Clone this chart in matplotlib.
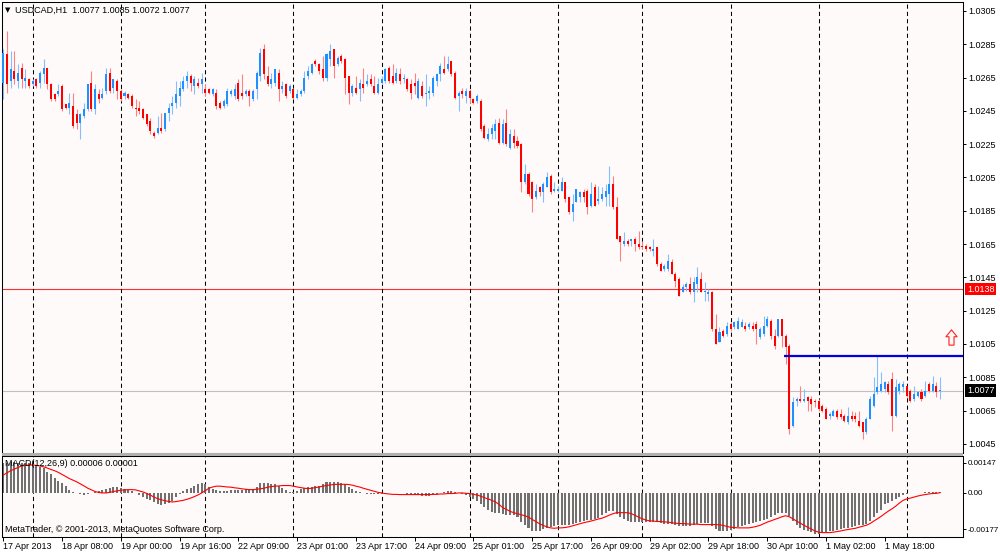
import matplotlib
matplotlib.use("Agg")
import matplotlib.pyplot as plt
from matplotlib.path import Path
from matplotlib.patches import Rectangle
from matplotlib.transforms import blended_transform_factory
import numpy as np

plt.rcParams['font.family'] = ['Liberation Sans', 'DejaVu Sans']
plt.rcParams['font.size'] = 6.5

symbol = "USDCAD,H1"

# hourly candles, in pips above 1.0000 (1 pip = 0.0001)
opens = [262, 279, 263, 269, 263, 271, 263, 264, 261, 264,
         262, 267, 271, 261, 255, 255, 260, 249, 247, 248,
         243, 238, 242, 246, 262, 246, 255, 253, 257, 268,
         259, 263, 257, 254, 255, 254, 247, 247, 246, 243,
         239, 232, 232, 235, 234, 244, 248, 250, 254, 258,
         263, 266, 260, 262, 261, 258, 258, 255, 256, 250,
         248, 249, 255, 254, 262, 256, 255, 257, 252, 258,
         266, 282, 266, 261, 262, 268, 258, 261, 257, 258,
         253, 255, 257, 266, 268, 275, 273, 270, 265, 276,
         282, 273, 278, 276, 266, 256, 259, 258, 261, 261,
         264, 260, 256, 262, 263, 271, 266, 263, 267, 264,
         264, 261, 262, 253, 260, 255, 256, 256, 263, 267,
         270, 270, 275, 268, 254, 257, 254, 257, 252, 251,
         251, 236, 228, 231, 233, 238, 226, 238, 223, 230,
         227, 225, 202, 207, 202, 193, 199, 196, 199, 206,
         197, 197, 197, 202, 193, 184, 190, 193, 196, 197,
         188, 199, 191, 192, 193, 195, 201, 187, 170, 165,
         167, 167, 168, 165, 164, 164, 163, 161, 163, 153,
         150, 150, 154, 147, 144, 136, 139, 141, 136, 141,
         144, 136, 135, 136, 114, 106, 113, 111, 117, 115,
         114, 115, 116, 115, 116, 117, 109, 111, 116, 119,
         110, 110, 120, 110, 104, 56, 71, 72, 71, 73,
         72, 71, 71, 68, 66, 62, 62, 65, 63, 62,
         58, 62, 62, 59, 58, 52, 60, 68, 76, 77,
         78, 81, 84, 62, 77, 79, 80, 77, 72, 74,
         76, 74, 81, 77, 80, 77]
highs = [282, 293, 281, 281, 273, 274, 270, 265, 264, 265,
         269, 276, 271, 262, 256, 261, 261, 249, 256, 256,
         246, 244, 250, 261, 269, 261, 258, 259, 271, 271,
         264, 264, 258, 257, 256, 255, 252, 251, 247, 243,
         241, 233, 242, 244, 244, 250, 254, 263, 263, 266,
         269, 267, 266, 265, 268, 261, 259, 259, 258, 251,
         252, 259, 258, 261, 264, 267, 258, 258, 258, 269,
         283, 285, 272, 268, 270, 270, 263, 262, 261, 259,
         258, 258, 269, 272, 274, 276, 274, 278, 280, 285,
         282, 278, 279, 277, 266, 261, 266, 264, 271, 267,
         267, 266, 265, 266, 271, 272, 273, 271, 271, 267,
         265, 264, 268, 265, 263, 267, 260, 266, 268, 274,
         278, 278, 275, 269, 257, 259, 259, 258, 253, 255,
         252, 237, 235, 237, 240, 241, 240, 246, 234, 234,
         230, 226, 213, 208, 203, 201, 200, 202, 208, 207,
         202, 200, 205, 202, 193, 195, 198, 197, 198, 198,
         202, 201, 200, 199, 201, 212, 206, 193, 170, 172,
         168, 168, 169, 173, 167, 165, 164, 168, 163, 154,
         153, 159, 156, 148, 145, 141, 142, 145, 145, 151,
         148, 142, 138, 137, 123, 115, 114, 118, 118, 119,
         121, 120, 118, 118, 118, 119, 115, 122, 122, 120,
         114, 120, 120, 111, 105, 73, 73, 80, 78, 74,
         74, 72, 72, 69, 67, 64, 66, 66, 66, 63,
         67, 65, 64, 65, 58, 61, 74, 85, 98, 88,
         83, 83, 88, 84, 82, 83, 80, 78, 80, 77,
         78, 83, 82, 86, 82, 85]
lows = [252, 256, 259, 261, 259, 259, 259, 259, 260, 259,
        259, 262, 258, 251, 251, 254, 245, 246, 243, 235,
        234, 228, 241, 245, 245, 243, 250, 252, 255, 256,
        256, 252, 251, 252, 252, 247, 242, 243, 240, 236,
        231, 229, 231, 232, 233, 239, 243, 247, 248, 257,
        259, 257, 255, 259, 256, 254, 255, 254, 246, 246,
        247, 248, 254, 252, 251, 252, 254, 248, 251, 252,
        263, 264, 260, 259, 260, 251, 256, 253, 256, 252,
        252, 254, 256, 264, 267, 272, 267, 263, 263, 272,
        265, 272, 274, 255, 249, 254, 255, 251, 256, 260,
        260, 255, 255, 261, 262, 262, 261, 262, 261, 262,
        257, 252, 255, 252, 253, 248, 252, 254, 260, 263,
        267, 269, 266, 252, 245, 253, 250, 250, 249, 250,
        233, 228, 227, 228, 228, 225, 225, 224, 222, 223,
        223, 196, 201, 194, 184, 192, 194, 190, 199, 195,
        196, 196, 197, 190, 183, 179, 190, 190, 190, 183,
        187, 188, 189, 191, 188, 188, 186, 168, 155, 164,
        164, 164, 161, 162, 162, 161, 161, 158, 152, 149,
        149, 149, 147, 139, 134, 136, 137, 135, 130, 136,
        136, 131, 131, 113, 105, 106, 109, 110, 113, 114,
        114, 115, 113, 114, 113, 105, 108, 110, 115, 108,
        102, 109, 103, 93, 51, 55, 68, 70, 70, 65,
        65, 67, 65, 64, 60, 60, 62, 60, 60, 58,
        57, 59, 58, 55, 48, 51, 60, 67, 75, 76,
        76, 75, 53, 61, 75, 76, 73, 70, 71, 73,
        71, 73, 76, 76, 73, 72]
closes = [280, 261, 270, 264, 268, 264, 265, 260, 263, 260,
          268, 271, 261, 252, 252, 257, 246, 247, 250, 236,
          238, 243, 246, 261, 246, 258, 252, 255, 267, 257,
          264, 257, 252, 256, 253, 248, 246, 245, 241, 237,
          233, 230, 235, 233, 244, 247, 250, 255, 259, 263,
          266, 262, 264, 260, 264, 256, 256, 258, 248, 247,
          251, 257, 257, 258, 252, 254, 257, 254, 257, 268,
          280, 267, 261, 264, 270, 258, 260, 254, 260, 253,
          255, 257, 265, 269, 273, 273, 269, 265, 279, 281,
          272, 277, 275, 265, 256, 260, 256, 262, 259, 263,
          261, 256, 261, 264, 270, 263, 262, 268, 263, 265,
          258, 256, 260, 263, 254, 256, 257, 265, 267, 272,
          268, 273, 267, 253, 256, 255, 257, 253, 250, 254,
          234, 229, 231, 235, 237, 226, 237, 225, 231, 226,
          224, 202, 207, 195, 192, 197, 196, 201, 205, 196,
          198, 198, 202, 192, 184, 189, 198, 196, 193, 187,
          195, 188, 192, 195, 197, 201, 187, 168, 166, 167,
          165, 168, 165, 163, 163, 162, 162, 162, 153, 149,
          152, 155, 147, 143, 134, 139, 141, 136, 142, 145,
          136, 137, 136, 114, 105, 112, 110, 116, 114, 118,
          119, 118, 114, 117, 114, 114, 114, 116, 120, 110,
          104, 120, 110, 103, 54, 70, 72, 71, 72, 71,
          69, 70, 66, 65, 60, 63, 65, 61, 61, 59,
          62, 60, 60, 56, 52, 60, 72, 75, 79, 81,
          82, 76, 62, 79, 81, 81, 74, 71, 75, 76,
          72, 77, 77, 81, 76, 77]

# MACD(12,26,9) in units of 0.00001
macd_main = [147, 147, 149, 150, 147, 147, 144, 144, 141, 136,
             127, 119, 103, 92, 74, 59, 46, 33, 16, 7,
             -1, -5, -8, -3, 2, 5, 11, 16, 21, 25,
             28, 29, 26, 20, 15, 10, 1, -10, -18, -28,
             -36, -46, -54, -60, -56, -47, -39, -21, -3, 8,
             18, 26, 34, 42, 46, 42, 29, 18, 13, 10,
             8, 10, 13, 15, 16, 16, 18, 18, 21, 29,
             46, 46, 46, 44, 42, 33, 23, 15, 7, 5,
             11, 18, 23, 28, 31, 36, 34, 44, 51, 54,
             54, 54, 49, 42, 29, 20, 10, 5, 1, -3,
             -5, -5, -7, -5, -2, -1, 2, -1, -1, -2,
             -5, -7, -8, -11, -15, -16, -15, -11, -3, 2,
             7, 11, 11, 5, -2, -7, -10, -18, -28, -38,
             -54, -70, -83, -92, -96, -100, -103, -109, -109, -109,
             -118, -139, -158, -173, -183, -186, -183, -175, -170, -167,
             -162, -157, -155, -158, -155, -150, -147, -142, -137, -134,
             -131, -127, -121, -109, -96, -87, -88, -101, -118, -127,
             -136, -139, -139, -141, -142, -142, -142, -139, -142, -147,
             -149, -150, -152, -155, -160, -163, -163, -160, -154, -150,
             -147, -147, -147, -163, -176, -183, -186, -183, -180, -175,
             -168, -162, -157, -152, -147, -142, -137, -131, -126, -116,
             -106, -100, -98, -100, -114, -136, -158, -170, -180, -186,
             -191, -198, -198, -193, -188, -183, -183, -180, -176, -173,
             -170, -165, -162, -158, -155, -149, -136, -118, -100, -82,
             -56, -47, -39, -29, -20, -8, -3, -1, 0, 1,
             2, 3, 4, 5, 6, 6]
macd_signal = [87, 98, 108, 116, 124, 131, 134, 136, 136, 134,
               131, 127, 121, 114, 108, 100, 90, 80, 70, 62,
               54, 44, 34, 23, 15, 7, 2, 0, 0, 3,
               7, 10, 13, 15, 16, 16, 15, 10, 5, -2,
               -10, -20, -28, -33, -38, -41, -44, -42, -39, -36,
               -31, -25, -18, -10, 0, 11, 23, 29, 33, 33,
               31, 29, 28, 25, 23, 20, 18, 16, 16, 18,
               20, 23, 28, 31, 33, 34, 36, 36, 36, 33,
               29, 26, 23, 21, 23, 26, 29, 33, 36, 39,
               41, 42, 42, 42, 41, 38, 33, 29, 23, 18,
               13, 8, 3, 0, -3, -5, -7, -7, -8, -8,
               -8, -8, -8, -8, -8, -8, -8, -7, -7, -5,
               -5, -3, -3, -2, 0, 0, -2, -3, -7, -10,
               -16, -23, -29, -36, -44, -56, -72, -80, -90, -96,
               -101, -106, -111, -118, -129, -139, -150, -158, -165, -170,
               -172, -170, -170, -168, -165, -160, -155, -150, -145, -141,
               -137, -132, -127, -123, -116, -108, -101, -96, -96, -96,
               -96, -101, -109, -118, -126, -132, -136, -137, -139, -139,
               -141, -142, -145, -147, -149, -149, -150, -152, -152, -152,
               -154, -154, -154, -154, -154, -155, -158, -163, -167, -168,
               -170, -170, -170, -170, -167, -163, -158, -150, -142, -136,
               -129, -123, -116, -111, -116, -126, -137, -147, -157, -167,
               -176, -185, -191, -193, -193, -193, -191, -188, -185, -181,
               -178, -175, -172, -167, -162, -157, -149, -137, -126, -114,
               -101, -88, -77, -64, -49, -36, -29, -25, -20, -15,
               -11, -8, -5, -3, -2, 1]

time_labels = ["17 Apr 2013", "18 Apr 08:00", "19 Apr 00:00", "19 Apr 16:00",
               "22 Apr 09:00", "23 Apr 01:00", "23 Apr 17:00", "24 Apr 09:00",
               "25 Apr 01:00", "25 Apr 17:00", "26 Apr 09:00", "29 Apr 02:00",
               "29 Apr 18:00", "30 Apr 10:00", "1 May 02:00", "1 May 18:00"]
label_step = 16
day_starts = [8, 32, 55, 79, 103, 127, 151, 174, 198, 222, 246]

price_ticks = [1.0045, 1.0065, 1.0085, 1.0105, 1.0125, 1.0145, 1.0165,
               1.0185, 1.0205, 1.0225, 1.0245, 1.0265, 1.0285, 1.0305]
macd_ticks = [0.00147, 0.0, -0.00177]
macd_tick_labels = ["0.00147", "0.00", "-0.00177"]

ask_level = 1.0138
bid_level = 1.0077
hline_level = 1.0098
hline_start = 213
arrow_bar, arrow_level = 258, 1.0109

pip = 0.0001
unit = 0.00001
o = 1 + np.array(opens) * pip
h = 1 + np.array(highs) * pip
l = 1 + np.array(lows) * pip
c = 1 + np.array(closes) * pip
m = np.array(macd_main) * unit
s = np.array(macd_signal) * unit
x = np.arange(len(o))

W, H = 1000, 553
fig = plt.figure(figsize=(W / 100, H / 100), dpi=100, facecolor='white')


def px_box(x0, y0, x1, y1):
    return [x0 / W, 1 - y1 / H, (x1 - x0) / W, (y1 - y0) / H]


def ftext(xp, yp, txt, **kw):
    fig.text(xp / W, 1 - yp / H, txt, **kw)


# window separator between the two panes
fig.patches.append(Rectangle((1.5 / W, 1 - 456 / H), 961.5 / W, 3 / H,
                             transform=fig.transFigure, fc='#b0b0b0', ec='none'))

ax = fig.add_axes(px_box(1.5, 2, 963, 453), facecolor='#fffafa')
axm = fig.add_axes(px_box(1.5, 456, 963, 536.5), facecolor='#fffafa')
xlim = (-0.49, 261.3)

# candles
up = c >= o
body_col = np.where(up, '#1e90ff', '#ff0000')
wick_col = np.where(up, '#80c0ff', '#ff8080')
ax.vlines(x, l, h, colors=wick_col, linewidth=0.8, zorder=2)
ax.bar(x, np.maximum(np.abs(c - o), 0.00006), bottom=np.minimum(o, c),
       width=0.55, color=body_col, linewidth=0, zorder=3)

ax.axhline(ask_level, color='#ff3030', lw=0.8, zorder=1)
ax.axhline(bid_level, color='#c0c0c0', lw=0.8, zorder=1)
ax.hlines(hline_level, hline_start - 0.5, xlim[1], color='#0000e0', lw=1.6, zorder=4)

arrow = Path([(0, 1), (0.73, 0.1), (0.33, 0.1), (0.33, -1), (-0.33, -1),
              (-0.33, 0.1), (-0.73, 0.1), (0, 1)], closed=True)
ax.plot([arrow_bar], [arrow_level], marker=arrow, ms=11, mfc='none',
        mec='#ff2020', mew=0.8, clip_on=False)

# macd
axm.bar(x, m, width=0.55, color='#707070', linewidth=0, zorder=2)
axm.plot(x, s, color='#ff0000', lw=0.8, zorder=3)

for a in (ax, axm):
    for d in day_starts:
        a.axvline(d, color='black', lw=0.75, dashes=(4, 3), zorder=1)
    a.set_xlim(*xlim)
    for sp in a.spines.values():
        sp.set_color('black')
        sp.set_linewidth(0.75)
    a.yaxis.tick_right()
    a.tick_params(axis='y', length=2.2, width=0.7, pad=1.5, colors='black')

ax.set_ylim(1.003953, 1.03104)
ax.set_yticks(price_ticks)
ax.set_yticklabels([f"{t:.4f}" for t in price_ticks])
ax.tick_params(axis='y', labelsize=6.5)
ax.tick_params(axis='x', bottom=False, labelbottom=False)

axm.set_ylim(-0.00212, 0.001798)
axm.set_yticks(macd_ticks)
axm.set_yticklabels(macd_tick_labels)
axm.tick_params(axis='y', labelsize=5.8, pad=1)
axm.set_xticks(x[::label_step][:len(time_labels)])
axm.set_xticklabels(time_labels, ha='left')
axm.tick_params(axis='x', length=2.9, width=0.7, pad=0.8, labelsize=6.5)

# price tags on the scale
trans = blended_transform_factory(ax.transAxes, ax.transData)
ax.text(1.004, ask_level, f"{ask_level:.4f}", transform=trans, color='white',
        fontsize=6.5, va='center', ha='left', clip_on=False,
        bbox=dict(boxstyle='square,pad=0.2', fc='#ff0000', ec='none'))
ax.text(1.004, bid_level, f"{bid_level:.4f}", transform=trans, color='white',
        fontsize=6.5, va='center', ha='left', clip_on=False,
        bbox=dict(boxstyle='square,pad=0.2', fc='black', ec='none'))

ftext(5, 10, '▼', fontsize=5, va='center', family=['DejaVu Sans'])
ftext(15, 10, f"{symbol}  {o[-1]:.4f} {h[-1]:.4f} {l[-1]:.4f} {c[-1]:.4f}", va='center')
ftext(5, 464, f"MACD(12,26,9) {m[-1]:.5f} {s[-1]:.5f}", va='center')
ftext(5, 530, "MetaTrader, \u00a9 2001-2013, MetaQuotes Software Corp.", va='center')

fig.savefig('out.png', dpi=100, facecolor='white')
